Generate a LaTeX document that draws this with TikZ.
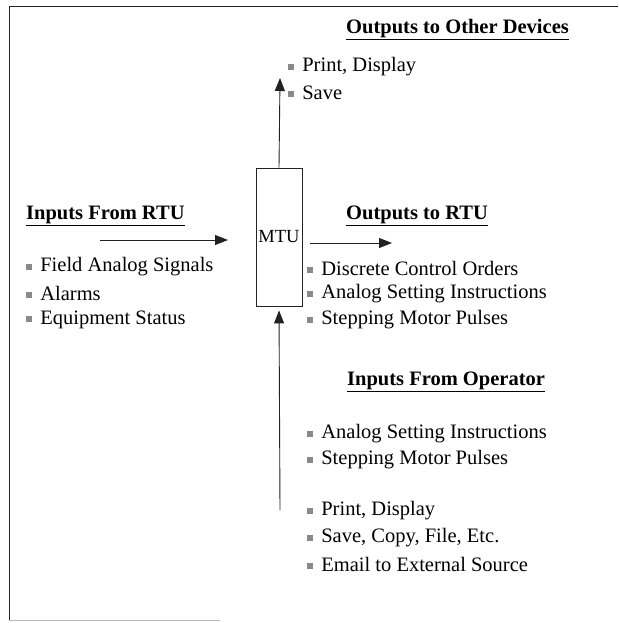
\documentclass[tikz,border=0pt]{standalone}
\usepackage{fontspec}
\setmainfont{Liberation Serif}
\usetikzlibrary{arrows.meta,positioning}
\definecolor{inkgray}{HTML}{222222}
\definecolor{bulgray}{HTML}{8A8A8A}
\newcommand{\sqbul}{\textcolor{bulgray}{\rule[0.25ex]{0.29em}{0.29em}}\hspace{0.4em}}

\begin{document}
\begin{tikzpicture}[x=1pt,y=-1pt,
    head/.style={anchor=west,inner sep=0pt,font=\fontsize{20.5}{22}\selectfont\bfseries},
    item/.style={anchor=west,inner sep=0pt,font=\fontsize{20.5}{22}\selectfont},
    flow/.style={draw=inkgray,line width=0.9pt,-{Triangle[length=13pt,width=10pt]}}]

  \useasboundingbox (0,0) rectangle (618,623);

  % ---- Frame ------------------------------------------------
  \draw[inkgray,line width=0.9pt] (618,6) -- (9,6) -- (9,620);
  \draw[bulgray!60,line width=0.6pt] (9,620) -- (220,620);

  % ---- MTU box ----------------------------------------------
  \node[draw=inkgray,line width=0.9pt,minimum width=46pt,minimum height=138pt,
        inner sep=0pt,font=\fontsize{18.5}{20}\selectfont] (mtu) at (279,237) {MTU};

  % ---- Outputs to other devices (top) -----------------------
  \node[head] (othHead) at (346,30) {\underline{Outputs to Other Devices}};
  \node[item] (othA) at (288,67) {\sqbul Print, Display};
  \node[item] (othB) at (288,93) {\sqbul Save};
  \coordinate (othTip) at (280,78);
  \draw[flow] (mtu.north) -- (othTip);

  % ---- Inputs from RTU (left) -------------------------------
  \node[head] (rtuInHead) at (26,216) {\underline{Inputs From RTU}};
  \coordinate (rtuInTail) at (100,240);
  \coordinate (rtuInTip) at (228,240);
  \draw[flow] (rtuInTail) -- (rtuInTip);
  \node[item] (rtuInA) at (26,267) {\sqbul Field Analog Signals};
  \node[item] (rtuInB) at (26,293) {\sqbul Alarms};
  \node[item] (rtuInC) at (26,320) {\sqbul Equipment Status};

  % ---- Outputs to RTU (right) -------------------------------
  \node[head] (rtuOutHead) at (346,216) {\underline{Outputs to RTU}};
  \node[item] (rtuOutA) at (307,268) {\sqbul Discrete Control Orders};
  \node[item] (rtuOutB) at (307,294) {\sqbul Analog Setting Instructions};
  \node[item] (rtuOutC) at (307,320) {\sqbul Stepping Motor Pulses};
  \coordinate (rtuOutTail) at (310,243);
  \coordinate (rtuOutTip) at (392,243);
  \draw[flow] (rtuOutTail) -- (rtuOutTip);

  % ---- Inputs from operator (bottom) ------------------------
  \coordinate (opTail) at (280,510);
  \draw[flow,shorten >=4pt] (opTail) -- (mtu.south);
  \node[head] (opHead) at (347,382) {\underline{Inputs From Operator}};
  \node[item] (opA) at (307,434) {\sqbul Analog Setting Instructions};
  \node[item] (opB) at (307,460) {\sqbul Stepping Motor Pulses};
  \node[item] (opC) at (307,511) {\sqbul Print, Display};
  \node[item] (opD) at (307,538) {\sqbul Save, Copy, File, Etc.};
  \node[item] (opE) at (307,564) {\sqbul Email to External Source};

\end{tikzpicture}
\end{document}
